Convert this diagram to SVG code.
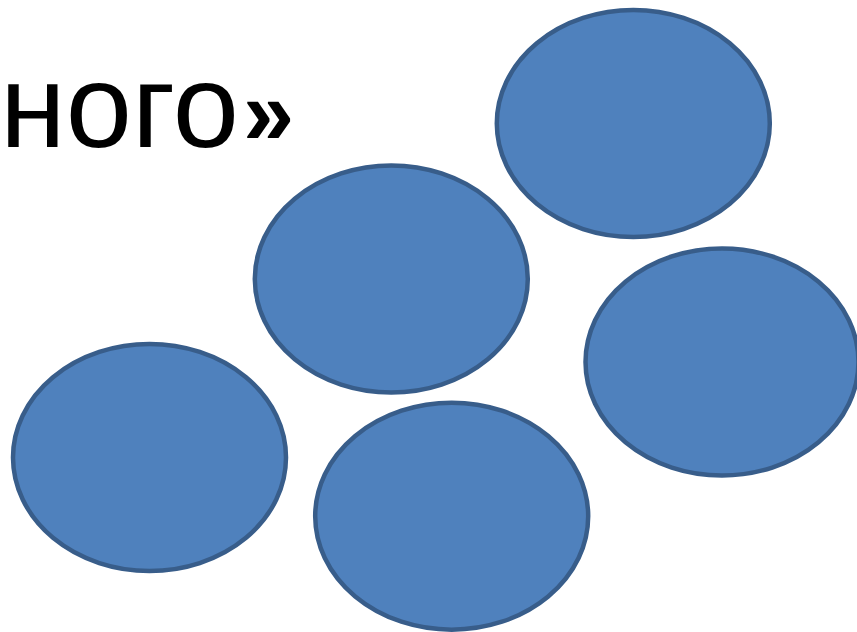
<svg xmlns="http://www.w3.org/2000/svg" width="857" height="632" viewBox="0 0 857 632">
<style>
.node ellipse{fill:#4F81BD;stroke:#385D8A;stroke-width:4.5}
.title{font-family:"Liberation Sans",Arial,sans-serif;font-size:119px;fill:#000}
</style>
<rect width="857" height="632" fill="#fff"/>
<text class="title" x="0" y="147">ного<tspan x="243" y="144" font-size="92" font-weight="bold">»</tspan></text>
<g id="connectors"></g>
<g id="node1" class="node"><ellipse cx="633.3" cy="123.5" rx="136.5" ry="113.5"/></g>
<g id="node2" class="node"><ellipse cx="391.3" cy="279" rx="136.5" ry="113.5"/></g>
<g id="node3" class="node"><ellipse cx="722" cy="362" rx="136.5" ry="113.5"/></g>
<g id="node4" class="node"><ellipse cx="149.5" cy="457.5" rx="136.5" ry="113.5"/></g>
<g id="node5" class="node"><ellipse cx="451.7" cy="516.2" rx="136.5" ry="113.5"/></g>
</svg>
